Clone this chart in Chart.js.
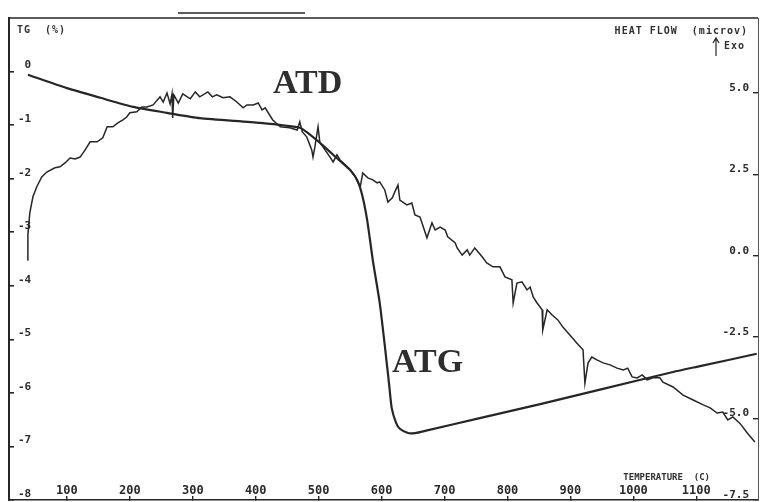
<!DOCTYPE html>
<html>
<head>
<meta charset="utf-8">
<script src="https://cdn.jsdelivr.net/npm/chart.js@4.4.1/dist/chart.umd.min.js"></script>
<style>
  html, body { margin: 0; padding: 0; background: #fff; }
  #wrap { width: 765px; height: 502px; }
</style>
</head>
<body>
<div id="wrap"><canvas id="thermoChart" width="765" height="502"></canvas></div>
<script>
// TG curve: mass change (%) against temperature (C)
const tgTemp = [38, 100, 153, 205, 259, 311, 407, 470, 481, 502, 518, 534, 550, 561, 569, 577, 586, 597, 605, 612,
  616, 623, 629, 642, 653, 669, 756, 852, 947, 1063, 1106, 1196];
const tgLoss = [-0.06, -0.31, -0.49, -0.66, -0.77, -0.87, -0.96, -1.05, -1.13, -1.33, -1.50, -1.67, -1.84, -2.02, -2.30, -2.77, -3.52, -4.32, -5.11, -5.85,
  -6.28, -6.56, -6.67, -6.75, -6.75, -6.71, -6.47, -6.21, -5.94, -5.61, -5.50, -5.27];

// DTA curve: heat flow (microV) against temperature (C)
const dtaTemp = [37, 38, 41, 46, 52, 60, 68, 81, 89, 97,
  105, 113, 121, 129, 137, 148, 157, 164, 173, 181,
  189, 195, 200, 211, 219, 227, 237, 248, 253, 259,
  264, 267, 268, 270, 277, 284, 296, 304, 311, 324,
  331, 338, 348, 359, 370, 380, 386, 396, 404, 410,
  415, 427, 439, 454, 466, 470, 474, 481, 489, 491,
  494, 499, 502, 507, 518, 523, 529, 534, 542, 550,
  558, 566, 570, 578, 586, 593, 597, 605, 610, 617,
  621, 626, 629, 640, 648, 653, 661, 672, 680, 685,
  693, 701, 705, 717, 720, 728, 736, 740, 748, 760,
  767, 777, 788, 796, 807, 809, 815, 823, 831, 836,
  841, 847, 855, 856, 863, 871, 880, 888, 899, 910,
  920, 923, 928, 934, 942, 952, 963, 974, 984, 991,
  998, 1006, 1014, 1022, 1031, 1042, 1047, 1063, 1079, 1095,
  1111, 1122, 1133, 1142, 1150, 1158, 1169, 1181, 1193];
const dtaFlow = [-0.13, 0.64, 1.31, 1.81, 2.11, 2.42, 2.57, 2.70, 2.73, 2.85,
  3.00, 2.97, 3.03, 3.25, 3.50, 3.50, 3.62, 3.96, 3.96, 4.08,
  4.17, 4.26, 4.39, 4.42, 4.57, 4.57, 4.63, 4.88, 4.72, 5.00,
  4.66, 4.97, 4.23, 4.94, 4.69, 4.97, 4.82, 5.03, 4.88, 5.03,
  4.88, 4.94, 4.85, 4.88, 4.72, 4.54, 4.63, 4.63, 4.69, 4.48,
  4.54, 4.17, 3.96, 3.93, 3.86, 4.11, 3.80, 3.65, 3.25, 3.03,
  3.34, 3.96, 3.46, 3.34, 3.03, 2.88, 3.10, 2.94, 2.79, 2.64,
  2.42, 2.11, 2.54, 2.39, 2.33, 2.24, 2.27, 2.02, 1.65, 1.78,
  1.96, 2.17, 1.71, 1.56, 1.62, 1.25, 1.19, 0.55, 1.01, 0.79,
  0.88, 0.79, 0.58, 0.39, 0.24, 0.02, 0.18, 0.02, 0.24, -0.04,
  -0.22, -0.34, -0.34, -0.65, -0.74, -1.45, -0.84, -0.80, -1.05, -0.96,
  -1.27, -1.45, -1.66, -2.28, -1.66, -1.82, -1.97, -2.19, -2.43, -2.68,
  -2.89, -3.91, -3.29, -3.11, -3.20, -3.29, -3.35, -3.45, -3.51, -3.45,
  -3.72, -3.75, -3.66, -3.81, -3.75, -3.75, -3.88, -4.03, -4.28, -4.43,
  -4.58, -4.67, -4.83, -4.80, -5.04, -4.95, -5.14, -5.44, -5.72];

// tick values on the three axes
const tempTicks = [100, 200, 300, 400, 500, 600, 700, 800, 900, 1000, 1100];
const tgTicks = [0, -1, -2, -3, -4, -5, -6, -7, -8];
const flowTicks = [5, 2.5, 0, -2.5, -5, -7.5];

const toPoints = (xs, ys) => xs.map((x, i) => ({x: x, y: ys[i]}));
const useTicks = (values) => (scale) => { scale.ticks = values.map(v => ({value: v})); };

const ink = '#262626';
const tickFont = {family: 'DejaVu Sans Mono', size: 11, weight: 'bold'};

// axes take no room of their own; labels sit inside the frame
const flatY = (scale) => {
  scale.width = 0;
  scale.paddingTop = 0;
  scale.paddingBottom = 0;
};
const flatX = (scale) => {
  scale.height = 0;
  scale.paddingLeft = 0;
  scale.paddingRight = 0;
};

// titles, frame top and the curve names
const plotLabels = {
  id: 'plotLabels',
  afterDraw(chart) {
    const {ctx, chartArea: a} = chart;
    ctx.save();
    ctx.strokeStyle = ink;
    ctx.lineWidth = 1.6;
    ctx.beginPath();
    ctx.moveTo(a.left, a.top);
    ctx.lineTo(a.right, a.top);
    ctx.moveTo(178, 13);
    ctx.lineTo(305, 13);
    ctx.stroke();

    ctx.fillStyle = '#303030';
    ctx.textBaseline = 'middle';
    ctx.font = 'bold 10px "DejaVu Sans Mono"';
    ctx.letterSpacing = '1px';
    ctx.textAlign = 'left';
    ctx.fillText('TG  (%)', a.left + 8, 30);
    ctx.textAlign = 'right';
    ctx.fillText('HEAT FLOW  (microv)', 748, 31);
    ctx.textAlign = 'left';
    ctx.fillText('Exo', 724, 46);
    ctx.font = 'bold 9px "DejaVu Sans Mono"';
    ctx.letterSpacing = '0px';
    ctx.textAlign = 'right';
    ctx.fillText('TEMPERATURE  (C)', 710, 478);

    // upward arrow next to "Exo"
    ctx.lineWidth = 1.2;
    ctx.beginPath();
    ctx.moveTo(716, 56);
    ctx.lineTo(716, 39);
    ctx.moveTo(713, 43);
    ctx.lineTo(716, 38);
    ctx.lineTo(719, 43);
    ctx.stroke();

    ctx.fillStyle = '#2e2e2e';
    ctx.font = 'bold 34px "Liberation Serif"';
    ctx.textBaseline = 'alphabetic';
    ctx.textAlign = 'left';
    ctx.fillText('ATD', 273, 93);
    ctx.fillText('ATG', 392, 372);
    ctx.restore();
  }
};

new Chart(document.getElementById('thermoChart'), {
  type: 'line',
  data: {
    datasets: [
      {
        label: 'ATG',
        data: toPoints(tgTemp, tgLoss),
        yAxisID: 'y',
        borderColor: ink,
        borderWidth: 2.2,
        pointRadius: 0,
        tension: 0.2
      },
      {
        label: 'ATD',
        data: toPoints(dtaTemp, dtaFlow),
        yAxisID: 'y2',
        borderColor: ink,
        borderWidth: 1.5,
        pointRadius: 0,
        tension: 0
      }
    ]
  },
  options: {
    responsive: false,
    animation: false,
    layout: {padding: {left: 9, right: 7, top: 18, bottom: 2}},
    plugins: {legend: false, tooltip: {enabled: false}},
    scales: {
      x: {
        type: 'linear',
        min: 8,
        max: 1198,
        afterFit: flatX,
        afterBuildTicks: useTicks(tempTicks),
        border: {display: true, color: ink, width: 1.6},
        grid: {drawOnChartArea: false, drawTicks: true, tickLength: -4, color: ink, lineWidth: 1.4},
        ticks: {
          mirror: true,
          padding: 2,
          maxRotation: 0,
          autoSkip: false,
          color: '#2a2a2a',
          font: {family: 'DejaVu Sans Mono', size: 12, weight: 'bold'},
          callback: (v) => String(v)
        }
      },
      y: {
        position: 'left',
        min: -8,
        max: 1,
        afterFit: flatY,
        afterBuildTicks: useTicks(tgTicks),
        border: {display: true, color: ink, width: 2},
        grid: {drawOnChartArea: false, drawTicks: true, tickLength: -5, color: ink, lineWidth: 1.6},
        ticks: {
          mirror: true,
          crossAlign: 'far',
          padding: 9,
          labelOffset: -6,
          color: '#2a2a2a',
          font: tickFont
        }
      },
      y2: {
        position: 'right',
        min: -7.5,
        max: 7.3,
        afterFit: flatY,
        afterBuildTicks: useTicks(flowTicks),
        border: {display: true, color: '#555', width: 1, dash: [6, 2]},
        grid: {drawOnChartArea: false, drawTicks: true, tickLength: -5, color: ink, lineWidth: 1.4},
        ticks: {
          mirror: true,
          padding: -9,
          labelOffset: -5,
          color: '#2a2a2a',
          font: tickFont,
          callback: (v) => v.toFixed(1)
        }
      }
    }
  },
  plugins: [plotLabels]
});
</script>
</body>
</html>
